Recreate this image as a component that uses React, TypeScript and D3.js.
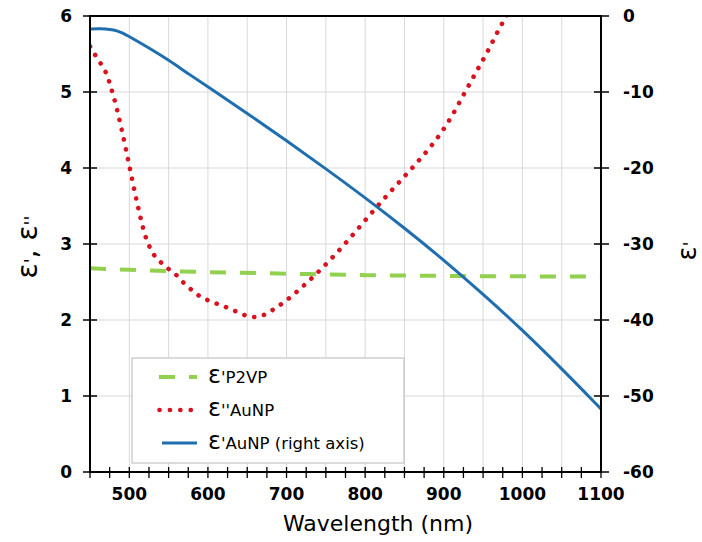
import React from "react";
import * as d3 from "d3";

// ---- data ----
const p2vpWavelength = [450, 500, 600, 700, 800, 900, 1000, 1100];
const p2vpEpsReal = [2.68, 2.66, 2.63, 2.61, 2.59, 2.58, 2.575, 2.57];

const aunpImagWavelength = [
  450, 460, 470, 480, 490, 500, 510, 520, 530, 540, 550, 560, 570, 580, 590, 600,
  615, 630, 645, 660, 672, 685, 700, 715, 730, 745, 760, 775, 790, 805, 820, 835,
  850, 865, 880, 895, 910, 925, 940, 955, 970, 980, 990,
];
const aunpEpsImag = [
  5.6, 5.43, 5.26, 4.94, 4.52, 4.03, 3.54, 3.12, 2.88, 2.76, 2.67, 2.59, 2.48, 2.39, 2.31, 2.26,
  2.2, 2.14, 2.07, 2.04, 2.07, 2.15, 2.26, 2.39, 2.53, 2.68, 2.84, 3.01, 3.19, 3.37, 3.55, 3.72,
  3.89, 4.06, 4.24, 4.44, 4.68, 4.96, 5.24, 5.52, 5.82, 6.01, 6.2,
];

const aunpRealWavelength = [
  450, 460, 470, 480, 490, 500, 525, 550, 575, 600, 650, 700, 750, 800, 850, 900, 950, 1000, 1050, 1100,
];
const aunpEpsReal = [
  -1.72, -1.68, -1.68, -1.82, -2.15, -2.7, -4.2, -5.8, -7.6, -9.3, -12.8, -16.4, -20.1, -23.9, -27.9,
  -32.1, -36.6, -41.3, -46.4, -51.7,
];

const xTickLabels = [500, 600, 700, 800, 900, 1000, 1100];
const leftTickLabels = [0, 1, 2, 3, 4, 5, 6];
const rightTickLabels = [0, -10, -20, -30, -40, -50, -60];

const legendLabels = ["'P2VP", "''AuNP", "'AuNP (right axis)"];

// ---- layout ----
const W = 702;
const H = 542;
const left = 90;
const right = 601;
const top = 16;
const bottom = 472;

const GREEN = "#92d050";
const RED = "#d9121f";
const BLUE = "#1f6fb0";
const TICK_FONT = "'DejaVu Sans', Verdana, sans-serif";

export default function App() {
  const x = d3.scaleLinear().domain([450, 1100]).range([left, right]);
  const yL = d3.scaleLinear().domain([0, 6]).range([bottom, top]);
  const yR = d3.scaleLinear().domain([-60, 0]).range([bottom, top]);

  const lineL = d3
    .line<[number, number]>()
    .x((d) => x(d[0]))
    .y((d) => yL(d[1]))
    .curve(d3.curveMonotoneX);
  const lineR = d3
    .line<[number, number]>()
    .x((d) => x(d[0]))
    .y((d) => yR(d[1]))
    .curve(d3.curveBasis);

  const greenPts = p2vpWavelength.map((w, i) => [w, p2vpEpsReal[i]] as [number, number]);
  const redPts = aunpImagWavelength.map((w, i) => [w, aunpEpsImag[i]] as [number, number]);
  const bluePts = aunpRealWavelength.map((w, i) => [w, aunpEpsReal[i]] as [number, number]);

  const vGrid = d3.range(500, 1100, 50);
  const hGrid = d3.range(1, 6, 1);
  const xMinor = d3.range(450, 1101, 25);

  const legendX = 132;
  const legendY = 358;
  const legendW = 272;
  const legendH = 105;
  const rowYs = [377, 410, 443];

  return (
    <div style={{ position: "fixed", left: 0, top: 0, width: W, height: H, background: "#fff" }}>
      <svg width={W} height={H} style={{ display: "block" }}>
        <defs>
          <clipPath id="plotClip">
            <rect x={left} y={top} width={right - left} height={bottom - top} />
          </clipPath>
        </defs>
        <rect x={0} y={0} width={W} height={H} fill="#fff" />

        {/* gridlines */}
        {vGrid.map((v) => (
          <line key={"vg" + v} x1={x(v)} x2={x(v)} y1={top} y2={bottom} stroke="#d9d9d9" strokeWidth={1} />
        ))}
        {hGrid.map((v) => (
          <line key={"hg" + v} x1={left} x2={right} y1={yL(v)} y2={yL(v)} stroke="#d9d9d9" strokeWidth={1} />
        ))}

        {/* series */}
        <g clipPath="url(#plotClip)">
          <path d={lineL(greenPts) || ""} fill="none" stroke={GREEN} strokeWidth={4} strokeDasharray="16 14" />
          <path
            d={lineL(redPts) || ""}
            fill="none"
            stroke={RED}
            strokeWidth={4.6}
            strokeLinecap="round"
            strokeDasharray="0.1 9.9"
          />
          <path d={lineR(bluePts) || ""} fill="none" stroke={BLUE} strokeWidth={3} />
        </g>

        {/* frame */}
        <line x1={left} x2={right} y1={top} y2={top} stroke="#000" strokeWidth={2} />
        <line x1={left} x2={left} y1={top - 1} y2={bottom + 1} stroke="#000" strokeWidth={2} />
        <line x1={right} x2={right} y1={top - 1} y2={bottom + 1} stroke="#000" strokeWidth={2} />
        <line x1={left - 1} x2={right + 1} y1={bottom} y2={bottom} stroke="#000" strokeWidth={2} />

        {/* left ticks */}
        {leftTickLabels.map((v) => (
          <g key={"lt" + v}>
            <line x1={left - 7} x2={left + 7} y1={yL(v)} y2={yL(v)} stroke="#000" strokeWidth={1.5} />
            <text
              x={72}
              y={yL(v)}
              dy="0.36em"
              textAnchor="end"
              fontFamily={TICK_FONT}
              fontWeight="bold"
              fontSize={17}
              fill="#000"
            >
              {v}
            </text>
          </g>
        ))}

        {/* right ticks */}
        {rightTickLabels.map((v) => (
          <g key={"rt" + v}>
            <line x1={right - 7} x2={right + 8} y1={yR(v)} y2={yR(v)} stroke="#000" strokeWidth={1.5} />
            <text
              x={623}
              y={yR(v)}
              dy="0.36em"
              textAnchor="start"
              fontFamily={TICK_FONT}
              fontWeight="bold"
              fontSize={17}
              fill="#000"
            >
              {v}
            </text>
          </g>
        ))}

        {/* bottom ticks */}
        {xMinor.map((v) => (
          <line key={"bt" + v} x1={x(v)} x2={x(v)} y1={bottom - 5} y2={bottom + 6} stroke="#000" strokeWidth={1.3} />
        ))}
        {xTickLabels.map((v) => (
          <text
            key={"bl" + v}
            x={x(v)}
            y={500}
            textAnchor="middle"
            fontFamily={TICK_FONT}
            fontWeight="bold"
            fontSize={17}
            fill="#000"
          >
            {v}
          </text>
        ))}

        {/* axis titles */}
        <text x={378} y={531} textAnchor="middle" fontFamily={TICK_FONT} fontSize={22} fill="#000">
          Wavelength (nm)
        </text>
        <text
          transform={`translate(37,247) rotate(-90)`}
          textAnchor="middle"
          fontFamily={TICK_FONT}
          fontSize={28}
          fill="#000"
        >
          <tspan>ε</tspan>
          <tspan fontSize={18}>'</tspan>
          <tspan>, ε</tspan>
          <tspan fontSize={18}>''</tspan>
        </text>
        <text
          transform={`translate(696,251) rotate(-90)`}
          textAnchor="middle"
          fontFamily={TICK_FONT}
          fontSize={26}
          fill="#000"
        >
          <tspan>ε</tspan>
          <tspan fontSize={17}>'</tspan>
        </text>

        {/* legend */}
        <rect x={legendX} y={legendY} width={legendW} height={legendH} fill="#fff" stroke="#c8c8c8" strokeWidth={1.3} />
        <line x1={159} x2={197} y1={rowYs[0]} y2={rowYs[0]} stroke={GREEN} strokeWidth={4} strokeDasharray="16 14" />
        <line
          x1={159.5}
          x2={197}
          y1={rowYs[1]}
          y2={rowYs[1]}
          stroke={RED}
          strokeWidth={4.6}
          strokeLinecap="round"
          strokeDasharray="0.1 10.3"
        />
        <line x1={162} x2={197} y1={rowYs[2]} y2={rowYs[2]} stroke={BLUE} strokeWidth={3} />
        {legendLabels.map((lab, i) => (
          <text key={"lg" + i} x={208} y={rowYs[i] + 6} fontFamily={TICK_FONT} fontSize={16.5} fill="#000">
            <tspan fontSize={24}>ε</tspan>
            <tspan>{lab}</tspan>
          </text>
        ))}
      </svg>
    </div>
  );
}
